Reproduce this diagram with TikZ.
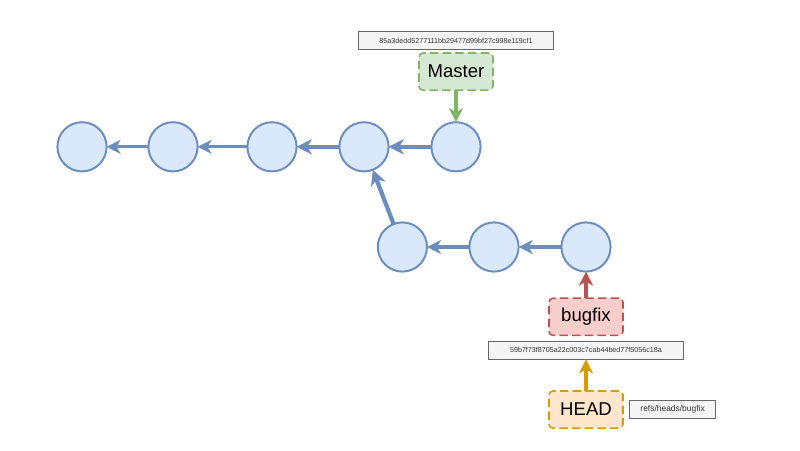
\documentclass[tikz,border=0pt]{standalone}
\usepackage{fontspec}
\setmainfont{Liberation Sans}
\usetikzlibrary{arrows.meta,positioning}

\definecolor{commitfill}{HTML}{DAE8FC}
\definecolor{commitline}{HTML}{6C8EBF}
\definecolor{masterfill}{HTML}{D5E8D4}
\definecolor{masterline}{HTML}{82B366}
\definecolor{bugfixfill}{HTML}{F8CECC}
\definecolor{bugfixline}{HTML}{B85450}
\definecolor{headfill}{HTML}{FFE6CC}
\definecolor{headline}{HTML}{D79B00}
\definecolor{hashfill}{HTML}{F5F5F5}
\definecolor{hashline}{HTML}{666666}
\definecolor{hashtext}{HTML}{333333}

\tikzset{
  commit/.style={circle, draw=commitline, fill=commitfill, line width=1.4pt, minimum size=1.23cm, inner sep=0pt, outer sep=0pt},
  refbox/.style={rectangle, rounded corners=0.1cm, line width=1.1pt, dash pattern=on 6pt off 3pt, minimum width=1.85cm, minimum height=0.93cm, inner sep=0pt, outer sep=0pt, font=\fontsize{13.2}{15}\selectfont},
  hashbox/.style={rectangle, draw=hashline, fill=hashfill, line width=0.6pt, minimum height=0.46cm, inner sep=0pt, outer sep=0pt, text=hashtext, font=\fontsize{5.1}{6}\selectfont},
  parentthin/.style={draw=commitline, line width=2.2pt, -{Stealth[length=10pt,width=10pt,inset=3pt]}},
  parentthick/.style={draw=commitline, line width=3pt, -{Stealth[length=11pt,width=11pt,inset=3.5pt]}},
  pointsto/.style={line width=2.5pt, -{Stealth[length=10pt,width=10pt,inset=3pt]}}
}

\begin{document}
\begin{tikzpicture}
  \useasboundingbox (0,0) rectangle (20,11.25);

  % main line
  \node[commit] (c1) at (2.05,7.58) {};
  \node[commit, right=1.045cm of c1] (c2) {};
  \node[commit, right=1.245cm of c2] (c3) {};
  \node[commit, right=1.07cm of c3] (c4) {};
  \node[commit, right=1.07cm of c4] (c5) {};

  % bugfix line
  \node[commit] (b1) at (10.06,5.075) {};
  \node[commit, right=1.06cm of b1] (b2) {};
  \node[commit, right=1.07cm of b2] (b3) {};

  % refs
  \node[refbox, draw=masterline, fill=masterfill, above=0.8cm of c5] (master) {Master};
  \node[hashbox, minimum width=4.86cm, above=0.08cm of master] (masterhash) {85a3dedd5277111bb29477d99bf27c998e119cf1};

  \node[refbox, draw=bugfixline, fill=bugfixfill, below=0.665cm of b3] (bugfix) {bugfix};
  \node[hashbox, minimum width=4.86cm, below=0.14cm of bugfix] (bugfixhash) {59b7f73f8705a22c003c7cab44bed77f5056c18a};

  \node[refbox, draw=headline, fill=headfill, below=0.79cm of bugfixhash] (head) {HEAD};
  \node[hashbox, minimum width=2.14cm, right=0.17cm of head, font=\fontsize{6}{7}\selectfont] (headref) {refs/heads/bugfix};

  \draw[parentthin] (c2) -- (c1);
  \draw[parentthin] (c3) -- (c2);
  \draw[parentthick] (c4) -- (c3);
  \draw[parentthick] (c5) -- (c4);
  \draw[parentthick] (b1) -- (c4);
  \draw[parentthin] (b2) -- (b1);
  \draw[parentthin] (b3) -- (b2);

  \draw[pointsto, draw=masterline] (master) -- (c5);
  \draw[pointsto, draw=bugfixline] (bugfix) -- (b3);
  \draw[pointsto, draw=headline] (head) -- (bugfixhash);

\end{tikzpicture}
\end{document}
